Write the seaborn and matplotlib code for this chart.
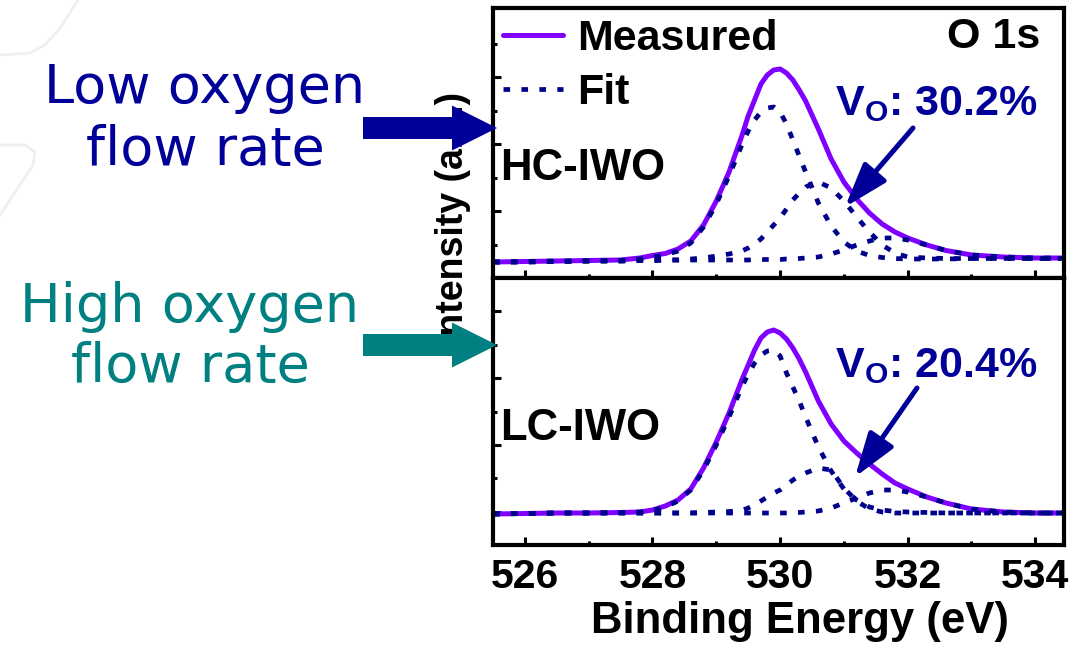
import matplotlib
matplotlib.use("Agg")
import matplotlib.pyplot as plt
import seaborn as sns
from matplotlib.patches import FancyArrow
from matplotlib.lines import Line2D

sns.set_theme(style="ticks")
plt.rcParams["font.family"] = ["Liberation Sans", "DejaVu Sans"]
plt.rcParams["mathtext.fontset"] = "custom"
plt.rcParams["mathtext.rm"] = "Liberation Sans"
plt.rcParams["mathtext.bf"] = "Liberation Sans:bold"
plt.rcParams["text.color"] = "black"
plt.rcParams["axes.labelcolor"] = "black"
plt.rcParams["xtick.color"] = "black"
plt.rcParams["ytick.color"] = "black"

# binding energy grid (eV)
energy = [525.5, 526.0, 526.5, 527.0, 527.5, 527.8, 528.0, 528.2, 528.4, 528.6,
          528.8, 529.0, 529.2, 529.4, 529.5, 529.6, 529.7, 529.8, 529.9, 530.0,
          530.1, 530.2, 530.3, 530.4, 530.6, 530.8, 531.0, 531.2, 531.4, 531.6,
          531.8, 532.0, 532.3, 532.6, 533.0, 533.5, 534.0, 534.45]

# HC-IWO (low oxygen flow rate)
hc_measured = [16, 16.5, 17, 17.5, 18, 20, 22.5, 24.5, 29, 37,
               53, 77, 106, 142, 162, 178, 194, 203, 208, 209,
               205, 198, 188, 177, 149, 119, 96, 79, 65, 54,
               46, 40, 33, 27.5, 23, 21, 20, 20]
hc_fit_main = [16, 16.5, 17, 17, 17.5, 19, 21, 23, 27, 35,
               51, 74, 102, 133, 147, 158, 166, 170, 171, 166,
               154, 138, 122, 106, 75, 52, 36, 27, 22.5, 20.5,
               19.5, 19, 19, 19, 19.5, 19.5, 19.5, 19.5]
hc_fit_vo = [16, 16, 16.5, 17, 17, 17.5, 17.5, 18, 18, 19,
             20, 22, 24, 27, 30, 34, 39, 46, 53, 60,
             69, 78, 85, 91, 96, 90, 77, 61, 46, 33,
             25, 21, 20, 19.5, 19.5, 19.5, 19.5, 19.5]
hc_fit_oh = [16, 16, 16.5, 17, 17, 17.5, 17.5, 18, 18, 18,
             18, 18, 18, 18, 18, 18.5, 18.5, 18.5, 18.5, 18.5,
             19, 19, 19.5, 20, 21, 24, 28, 33, 37, 40,
             40, 38, 33, 27.5, 23, 21, 20, 20]

# LC-IWO (high oxygen flow rate)
lc_measured = [31, 31.5, 32, 32, 32.5, 33, 35, 39, 45, 56,
               77, 103, 132, 165, 180, 195, 207, 213, 215, 212,
               206, 197, 186, 173, 144, 121, 104, 92, 81, 71,
               62, 56, 48, 42, 36, 33, 32, 32]
lc_fit_main = [31, 31.5, 32, 32, 32.5, 33, 34.5, 38, 44, 55,
               75, 100, 128, 158, 171, 182, 190, 194, 195, 189,
               172, 158, 144, 128, 98, 74, 56, 45, 38, 35,
               33.5, 33, 32.5, 32, 32, 32, 32, 32]
lc_fit_vo = [31, 31.5, 32, 32, 32, 32, 32, 32, 32, 32,
             32.5, 33, 33.5, 34.5, 37, 40, 44, 48, 52, 55,
             60, 65, 69, 72, 77, 75, 57, 44, 36, 33,
             32, 32, 32, 32, 32, 32, 32, 32]
lc_fit_oh = [31, 31.5, 32, 32, 32, 32, 32, 32, 32, 32,
             32, 32, 32, 32, 32, 32, 32, 32, 32, 32,
             32, 32, 32.5, 33, 34, 37, 42, 47, 52, 55,
             55, 53, 48, 42, 36, 33, 32, 32]

samples = ["HC-IWO", "LC-IWO"]
vo_percent = [30.2, 20.4]
flow_labels = [["Low oxygen", "flow rate"], ["High oxygen", "flow rate"]]
x_ticks = [526, 528, 530, 532, 534]

purple = "#8000ff"
navy = "#00008b"
text_navy = "#000099"
teal = "#008080"
dots = (0, (1.4, 2.4))

W, H = 1076, 647
fig = plt.figure(figsize=(W / 100, H / 100), dpi=100)
ax_top = fig.add_axes([493 / W, 1 - 278 / H, 571 / W, 270 / H])
ax_bot = fig.add_axes([493 / W, 1 - 545 / H, 571 / W, 267 / H])

panels = [
    (ax_top, hc_measured, [hc_fit_main, hc_fit_vo, hc_fit_oh], 270),
    (ax_bot, lc_measured, [lc_fit_main, lc_fit_vo, lc_fit_oh], 267),
]
for ax, meas, fits, ytop in panels:
    sns.lineplot(x=energy, y=meas, ax=ax, color=purple, linewidth=3.6,
                 label="Measured")
    for i, f in enumerate(fits):
        sns.lineplot(x=energy, y=f, ax=ax, color=navy, linewidth=3.4,
                     linestyle=dots, label="Fit" if i == 0 else None)
    ax.set_xlim(525.5, 534.45)
    ax.set_ylim(0, ytop)
    ax.set_xticks(x_ticks)
    ax.set_xticks([527, 529, 531, 533], minor=True)
    ax.tick_params(axis="both", which="both", direction="in", width=2.2,
                   colors="black", labelleft=False, right=False, top=False)
    ax.tick_params(axis="both", which="major", length=6)
    ax.tick_params(axis="both", which="minor", length=3)
    for s in ax.spines.values():
        s.set_linewidth(3)
        s.set_color("black")
    ax.set_ylabel("")
    if ax.get_legend() is not None:
        ax.get_legend().remove()

ax_top.set_yticks([67, 134, 201])
ax_top.set_yticks([33.5, 100.5, 167.5, 234.5], minor=True)
ax_top.tick_params(axis="x", labelbottom=False)
ax_bot.set_yticks([33, 100, 167, 234])
ax_bot.set_yticks([67, 133, 200], minor=True)
ax_bot.set_xticklabels([str(t) for t in x_ticks], fontsize=29.5, fontweight="bold")
ax_bot.tick_params(axis="x", which="major", pad=9)
ax_bot.set_xlabel("Binding Energy (eV)", fontsize=31.5, fontweight="bold",
                  labelpad=4, x=0.5376)

handles = ax_top.get_lines()[:2]
ax_top.legend(handles=handles, labels=["Measured", "Fit"], loc="upper left",
              bbox_to_anchor=(0.0175, 0.96), frameon=False,
              prop=dict(weight="bold", size=31), handlelength=1.4,
              handletextpad=0.33, labelspacing=0.33, borderpad=0,
              borderaxespad=0)

def fx(px):
    return px / W

def fy(py):
    return 1 - py / H

fig.text(fx(1040), fy(48), "O 1s", ha="right", va="baseline",
         fontsize=31, fontweight="bold")

# sample names and vacancy fractions
name_base = [180, 440]
vo_base = [115, 377]
for k in range(2):
    fig.text(fx(500), fy(name_base[k]), samples[k], ha="left", va="baseline",
             fontsize=31.5, fontweight="bold")
    fig.text(fx(835), fy(vo_base[k]), r"$\mathbf{V_O}$: %.1f%%" % vo_percent[k],
             ha="left", va="baseline", fontsize=31, fontweight="bold",
             color=text_navy)

# arrows pointing at the vacancy component
arrow_pts = [((913, 128), (845, 207)), ((917, 388), (855, 477))]
for ax, ((x0, y0), (x1, y1)) in zip([ax_top, ax_bot], arrow_pts):
    ax.annotate("", xy=(x1, H - y1), xytext=(x0, H - y0),
                xycoords="figure pixels", textcoords="figure pixels",
                annotation_clip=False,
                arrowprops=dict(arrowstyle="-|>,head_length=1.35,head_width=0.45",
                                mutation_scale=20, lw=3.6, color=text_navy,
                                shrinkA=0, shrinkB=0))

# y label (partly hidden by the big arrows)
fig.text(fx(453), fy(219), "Intensity (a.u.)", rotation=90, ha="center",
         va="center", fontsize=27, fontweight="bold")

# left side annotations
flow_colors = [text_navy, teal]
line_base = [(103, 165), (322, 382)]
line_cx = [205, 190]
for k in range(2):
    for j in range(2):
        fig.text(fx(line_cx[k]), fy(line_base[k][j]), flow_labels[k][j],
                 ha="center", va="baseline", fontsize=39,
                 family="DejaVu Sans", color=flow_colors[k])

arrow_y = [128, 345]
for k in range(2):
    fig.add_artist(FancyArrow(3.63, (H - arrow_y[k]) / 100, 1.34, 0,
                              width=0.22, head_width=0.45, head_length=0.45,
                              length_includes_head=True, color=flow_colors[k],
                              linewidth=0, transform=fig.dpi_scale_trans,
                              zorder=5))

# faint background decoration of the slide
fig.add_artist(Line2D([0.78, 0.6, 0.45, 0.3, 0.0], [6.47, 6.19, 6.02, 5.94, 5.92],
                      color="#efefef", lw=2, transform=fig.dpi_scale_trans))
fig.add_artist(Line2D([0.0, 0.25, 0.35, 0.33, 0.0], [5.02, 5.02, 4.95, 4.82, 4.32],
                      color="#efefef", lw=2, transform=fig.dpi_scale_trans))

fig.savefig("out.png", dpi=100)
